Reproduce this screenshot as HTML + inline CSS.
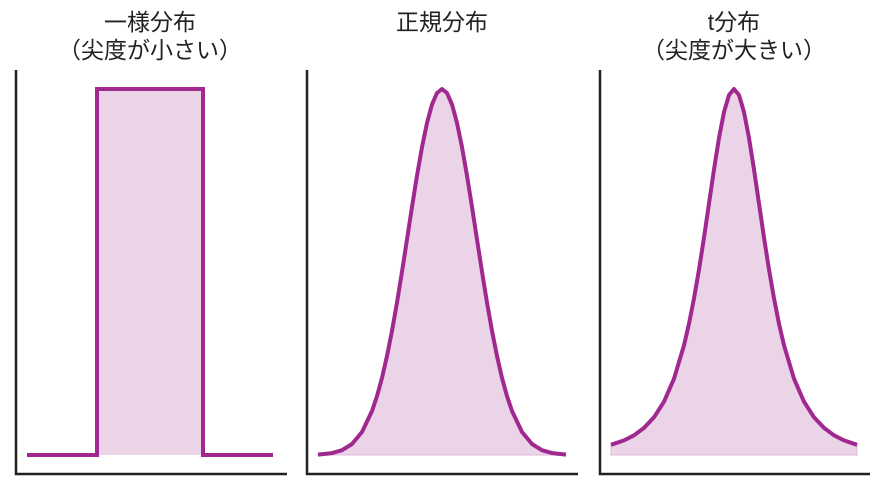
<!DOCTYPE html>
<html><head><meta charset="utf-8"><style>
html,body{margin:0;padding:0;background:#fff;width:885px;height:490px;overflow:hidden}
</style></head><body>
<svg width="885" height="490" xmlns="http://www.w3.org/2000/svg" font-family="Liberation Sans, Noto Sans CJK JP, sans-serif" font-size="23" fill="#222">
<text x="150" y="30" text-anchor="middle">一様分布</text>
<text x="150" y="58" text-anchor="middle">（尖度が小さい）</text>
<text x="442" y="30" text-anchor="middle">正規分布</text>
<text x="734" y="30" text-anchor="middle">t分布</text>
<text x="734" y="58" text-anchor="middle">（尖度が大きい）</text>
<g stroke="#222" stroke-width="2.5" fill="none">
<path d="M16 70 V474 H287"/>
<path d="M307 70 V474 H578"/>
<path d="M600 70 V474 H870"/>
</g>
<rect x="97" y="89" width="106" height="366" fill="#ecd4e8"/>
<path d="M27 455 H97 V89 H203 V455 H273" fill="none" stroke="#a0288f" stroke-width="4"/>

<path d="M318 454.6 L332 453.1 L342 450.2 L352 444 L362 432 L372 411 L377 396.1 L382 377.9 L387 356 L392 330.9 L397 302.6 L402 271.7 L407 239.5 L412 206.9 L417 175.7 L422 147.1 L427 123 L432 104.4 L437 93 L442 89 L447 93 L452 104.4 L457 123 L462 147.1 L467 175.7 L472 206.9 L477 239.5 L482 271.7 L487 302.6 L492 330.9 L497 356 L502 377.9 L507 396.1 L512 411 L522 432 L532 444 L542 450.2 L552 453.1 L566 454.6 L566 455 L318 455 Z" fill="#ecd4e8" stroke="#e0b8da" stroke-width="1"/>
<path d="M318 454.6 L332 453.1 L342 450.2 L352 444 L362 432 L372 411 L377 396.1 L382 377.9 L387 356 L392 330.9 L397 302.6 L402 271.7 L407 239.5 L412 206.9 L417 175.7 L422 147.1 L427 123 L432 104.4 L437 93 L442 89 L447 93 L452 104.4 L457 123 L462 147.1 L467 175.7 L472 206.9 L477 239.5 L482 271.7 L487 302.6 L492 330.9 L497 356 L502 377.9 L507 396.1 L512 411 L522 432 L532 444 L542 450.2 L552 453.1 L566 454.6" fill="none" stroke="#a0288f" stroke-width="4" stroke-linejoin="round"/>

<path d="M611 444.8 L624 440.4 L634 435.3 L644 427.9 L654 417.3 L664 401.7 L674 378.7 L684 345.3 L689 323.7 L694 298.4 L699 269.6 L704 237.6 L709 203.6 L714 169.5 L719 137.9 L724 112.1 L729 95 L734 89 L739 95 L744 112.1 L749 137.9 L754 169.5 L759 203.6 L764 237.6 L769 269.6 L774 298.4 L779 323.7 L784 345.3 L794 378.7 L804 401.7 L814 417.3 L824 427.9 L834 435.3 L844 440.4 L857 444.8 L857 455 L611 455 Z" fill="#ecd4e8" stroke="#e0b8da" stroke-width="1"/>
<path d="M611 444.8 L624 440.4 L634 435.3 L644 427.9 L654 417.3 L664 401.7 L674 378.7 L684 345.3 L689 323.7 L694 298.4 L699 269.6 L704 237.6 L709 203.6 L714 169.5 L719 137.9 L724 112.1 L729 95 L734 89 L739 95 L744 112.1 L749 137.9 L754 169.5 L759 203.6 L764 237.6 L769 269.6 L774 298.4 L779 323.7 L784 345.3 L794 378.7 L804 401.7 L814 417.3 L824 427.9 L834 435.3 L844 440.4 L857 444.8" fill="none" stroke="#a0288f" stroke-width="4" stroke-linejoin="round"/>
</svg>
</body></html>
